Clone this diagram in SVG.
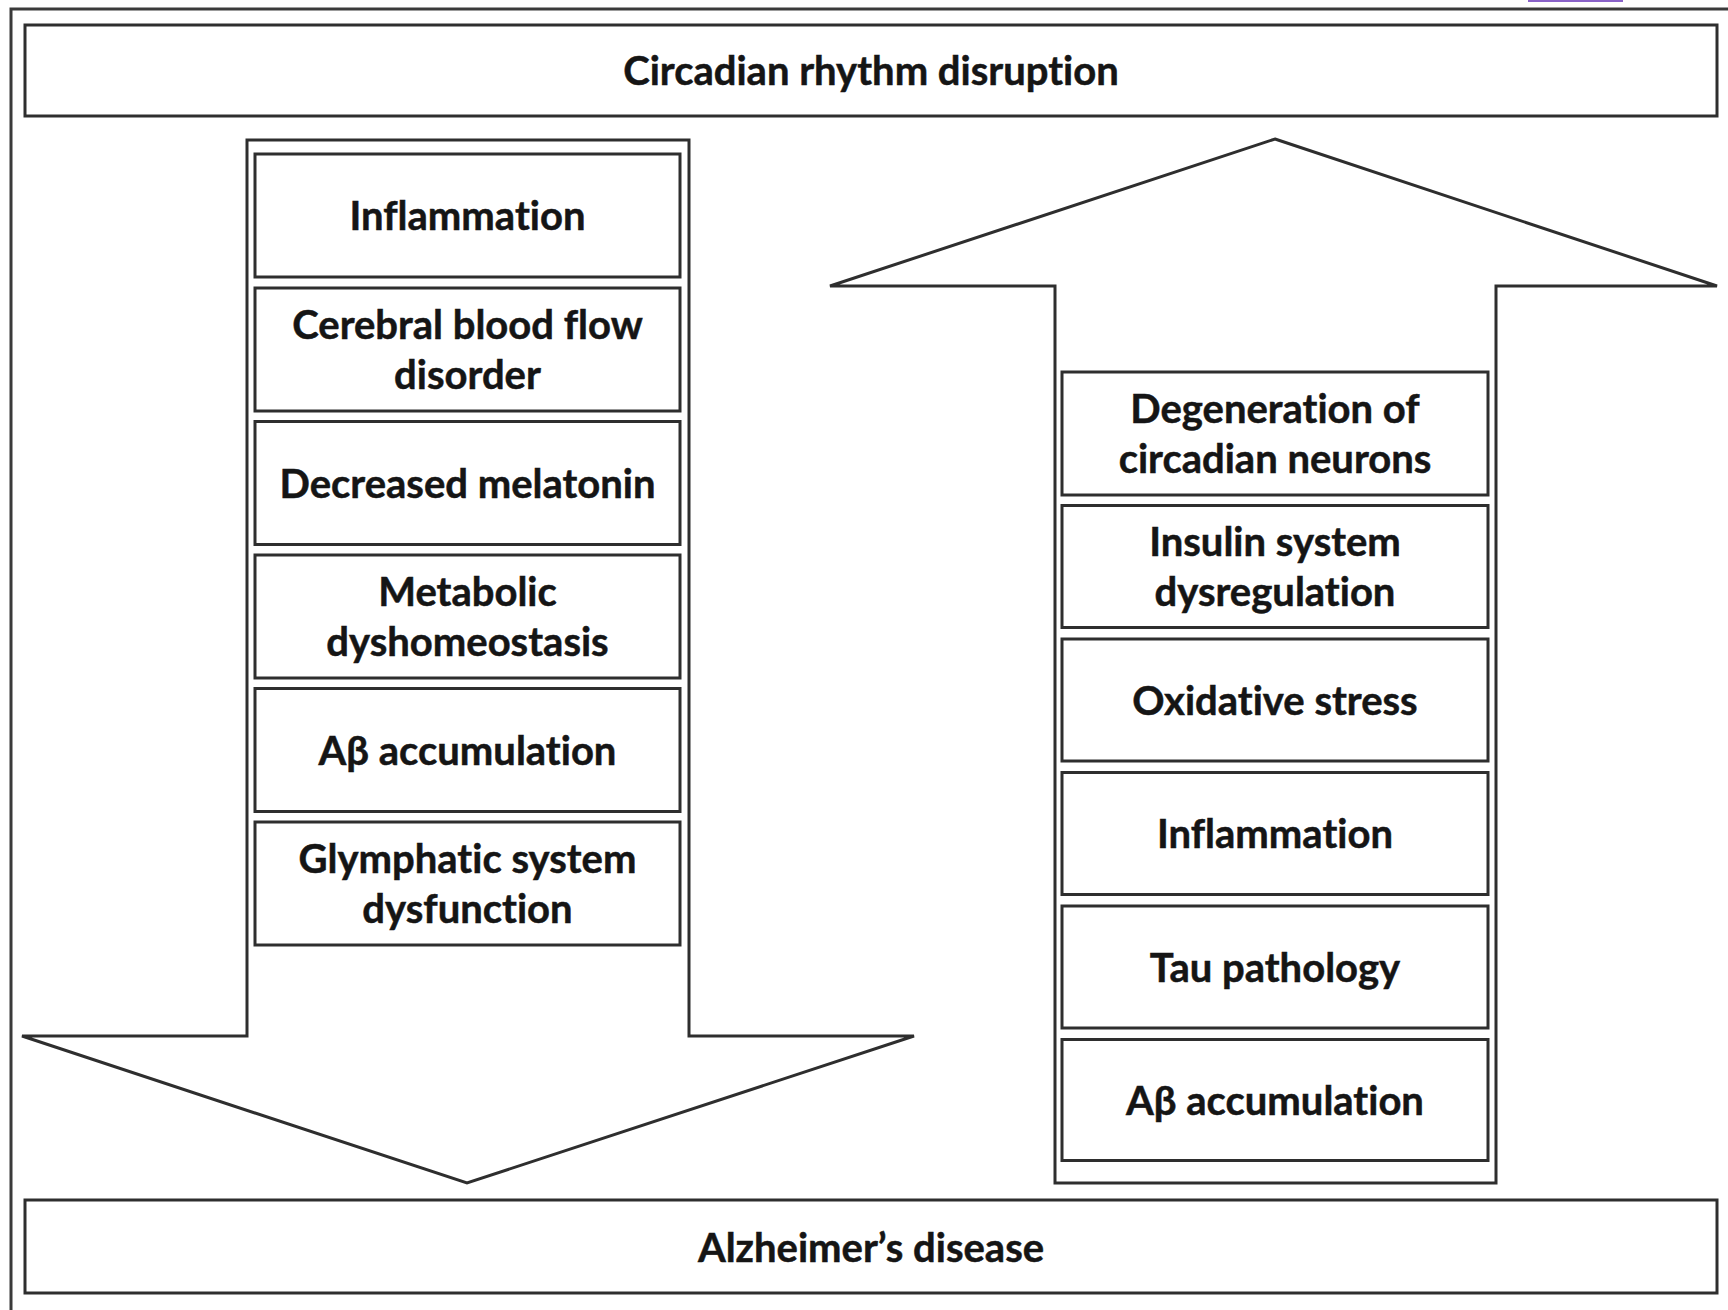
<svg xmlns="http://www.w3.org/2000/svg" width="1728" height="1310" viewBox="0 0 1728 1310">
  <style>
    .frame { fill: none; stroke: #3a3a3a; stroke-width: 3; }
    .box { fill: #ffffff; stroke: #2e2e2e; stroke-width: 3; }
    .arrow { fill: #ffffff; stroke: #2e2e2e; stroke-width: 3; stroke-linejoin: miter; }
    .label { font-family: "Lato", "Open Sans", "Liberation Sans", sans-serif; font-weight: 700; font-size: 40px; fill: #151515; stroke: #151515; stroke-width: 0.5; text-anchor: middle; font-variant-ligatures: none; }
  </style>
  <rect x="0" y="0" width="1728" height="1310" fill="#ffffff"/>

  <!-- page frame (runs off the right and bottom edges) -->
  <path class="frame" d="M11,1320 L11,9 L1740,9"/>
  <rect x="1528" y="0" width="95" height="2" fill="#8a63c9"/>

  <g id="circadian-disruption">
    <rect class="box" x="25" y="25" width="1692" height="91"/>
    <text class="label" x="871" y="85">Circadian rhythm disruption</text>
  </g>

  <g id="alzheimers-disease">
    <rect class="box" x="25" y="1200" width="1692" height="93"/>
    <text class="label" x="871" y="1262">Alzheimer’s disease</text>
  </g>

  <!-- block arrows -->
  <g id="connectors">
    <polygon id="arrow-down" class="arrow" points="247,140 689,140 689,1036 914,1036 467,1183 22,1036 247,1036"/>
    <polygon id="arrow-up" class="arrow" points="1275,139 1717,286 1496,286 1496,1183 1055,1183 1055,286 830,286"/>
  </g>

  <!-- left column: circadian disruption driving AD -->
  <g id="left-inflammation">
    <rect class="box" x="255" y="154" width="425" height="123"/>
    <text class="label" x="467.5" y="230">Inflammation</text>
  </g>
  <g id="left-blood-flow">
    <rect class="box" x="255" y="288" width="425" height="123"/>
    <text class="label" x="467.5" y="339">Cerebral blood flow</text>
    <text class="label" x="467.5" y="389">disorder</text>
  </g>
  <g id="left-melatonin">
    <rect class="box" x="255" y="421.5" width="425" height="123"/>
    <text class="label" x="467.5" y="497.5">Decreased melatonin</text>
  </g>
  <g id="left-metabolic">
    <rect class="box" x="255" y="555" width="425" height="123"/>
    <text class="label" x="467.5" y="606">Metabolic</text>
    <text class="label" x="467.5" y="656">dyshomeostasis</text>
  </g>
  <g id="left-abeta">
    <rect class="box" x="255" y="688.5" width="425" height="123"/>
    <text class="label" x="467.5" y="764.5">Aβ accumulation</text>
  </g>
  <g id="left-glymphatic">
    <rect class="box" x="255" y="822" width="425" height="123"/>
    <text class="label" x="467.5" y="873">Glymphatic system</text>
    <text class="label" x="467.5" y="923">dysfunction</text>
  </g>

  <!-- right column: AD feeding back into circadian disruption -->
  <g id="right-degeneration">
    <rect class="box" x="1062" y="372" width="426" height="123"/>
    <text class="label" x="1275" y="423">Degeneration of</text>
    <text class="label" x="1275" y="473">circadian neurons</text>
  </g>
  <g id="right-insulin">
    <rect class="box" x="1062" y="505.5" width="426" height="122"/>
    <text class="label" x="1275" y="556">Insulin system</text>
    <text class="label" x="1275" y="606">dysregulation</text>
  </g>
  <g id="right-oxidative">
    <rect class="box" x="1062" y="639" width="426" height="122"/>
    <text class="label" x="1275" y="714.5">Oxidative stress</text>
  </g>
  <g id="right-inflammation">
    <rect class="box" x="1062" y="772.5" width="426" height="122"/>
    <text class="label" x="1275" y="848">Inflammation</text>
  </g>
  <g id="right-tau">
    <rect class="box" x="1062" y="906" width="426" height="122"/>
    <text class="label" x="1275" y="981.5">Tau pathology</text>
  </g>
  <g id="right-abeta">
    <rect class="box" x="1062" y="1039.5" width="426" height="121"/>
    <text class="label" x="1275" y="1114.5">Aβ accumulation</text>
  </g>
</svg>
